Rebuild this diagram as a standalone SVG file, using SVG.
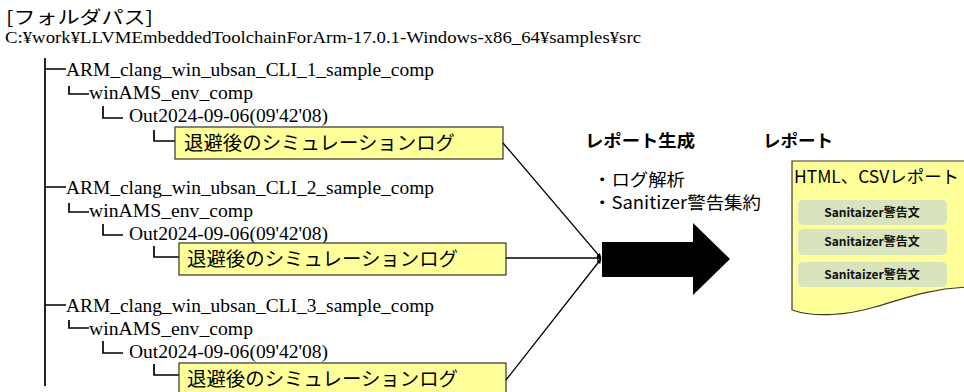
<svg xmlns="http://www.w3.org/2000/svg" width="964" height="392" viewBox="0 0 964 392">
  <style>
    .serif { font-family: "Liberation Serif", "Noto Sans CJK JP", serif; fill: #000; }
    .jp { font-family: "Noto Sans CJK JP", "Liberation Serif", sans-serif; fill: #000; }
    .sans { font-family: "Noto Sans CJK JP", "Liberation Sans", sans-serif; fill: #000; }
    .tree { stroke: #000; stroke-width: 1.7; fill: none; }
    .logbox { fill: #FFFF99; stroke: #333; stroke-width: 1.2; }
    .conn { stroke: #000; stroke-width: 1.3; fill: none; marker-end: url(#head); }
    .item { fill: #D7E4BD; }
    .itemtxt { font-family: "Noto Sans CJK JP", "Liberation Sans", sans-serif; font-size: 12px; font-weight: bold; fill: #111; text-anchor: middle; }
  </style>
  <defs>
    <marker id="head" viewBox="0 0 10 10" refX="9" refY="5" markerWidth="5" markerHeight="5" orient="auto" markerUnits="userSpaceOnUse">
      <path d="M0,0 L10,5 L0,10 z" fill="#000"/>
    </marker>
  </defs>

  <rect width="964" height="392" fill="#fff"/>

  <!-- heading and folder path -->
  <g id="heading">
    <text class="jp" x="6" y="24" font-size="18" textLength="147" lengthAdjust="spacingAndGlyphs">[フォルダパス]</text>
    <text class="serif" x="5" y="43" font-size="16.5" textLength="636" lengthAdjust="spacingAndGlyphs">C:¥work¥LLVMEmbeddedToolchainForArm-17.0.1-Windows-x86_64¥samples¥src</text>
  </g>

  <!-- folder tree trunk -->
  <g id="trunk">
    <line class="tree" x1="45" y1="58" x2="45" y2="386"/>
  </g>

  <!-- sample 1 -->
  <g id="sample1">
    <path class="tree" d="M45,69 H66 M69,86 V94 H89 M103,106 V118 H123 M154,130 V141 H175"/>
    <text class="serif" x="66" y="76" font-size="18.5" textLength="368" lengthAdjust="spacingAndGlyphs">ARM_clang_win_ubsan_CLI_1_sample_comp</text>
    <text class="serif" x="89" y="99" font-size="18.5" textLength="164" lengthAdjust="spacingAndGlyphs">winAMS_env_comp</text>
    <text class="serif" x="129" y="122" font-size="18.5" textLength="199" lengthAdjust="spacingAndGlyphs">Out2024-09-06(09'42'08)</text>
  </g>
  <g id="log1">
    <rect class="logbox" x="175" y="127" width="328" height="32"/>
    <text class="jp" x="184" y="150" font-size="19" textLength="271" lengthAdjust="spacingAndGlyphs">退避後のシミュレーションログ</text>
  </g>

  <!-- sample 2 -->
  <g id="sample2">
    <path class="tree" d="M45,187 H66 M69,203 V212 H89 M103,224 V235 H123 M154,246 V257 H179"/>
    <text class="serif" x="66" y="194" font-size="18.5" textLength="368" lengthAdjust="spacingAndGlyphs">ARM_clang_win_ubsan_CLI_2_sample_comp</text>
    <text class="serif" x="89" y="217" font-size="18.5" textLength="164" lengthAdjust="spacingAndGlyphs">winAMS_env_comp</text>
    <text class="serif" x="129" y="240" font-size="18.5" textLength="199" lengthAdjust="spacingAndGlyphs">Out2024-09-06(09'42'08)</text>
  </g>
  <g id="log2">
    <rect class="logbox" x="179" y="243" width="327" height="32"/>
    <text class="jp" x="187" y="266" font-size="19" textLength="271" lengthAdjust="spacingAndGlyphs">退避後のシミュレーションログ</text>
  </g>

  <!-- sample 3 -->
  <g id="sample3">
    <path class="tree" d="M45,305 H66 M69,320 V328 H89 M103,341 V353 H123 M154,364 V375 H179"/>
    <text class="serif" x="66" y="312" font-size="18.5" textLength="368" lengthAdjust="spacingAndGlyphs">ARM_clang_win_ubsan_CLI_3_sample_comp</text>
    <text class="serif" x="89" y="335" font-size="18.5" textLength="164" lengthAdjust="spacingAndGlyphs">winAMS_env_comp</text>
    <text class="serif" x="129" y="358" font-size="18.5" textLength="199" lengthAdjust="spacingAndGlyphs">Out2024-09-06(09'42'08)</text>
  </g>
  <g id="log3">
    <rect class="logbox" x="179" y="363" width="327" height="33"/>
    <text class="jp" x="187" y="386" font-size="19" textLength="271" lengthAdjust="spacingAndGlyphs">退避後のシミュレーションログ</text>
  </g>

  <!-- connectors from each log into the report generator -->
  <g id="connectors">
    <line class="conn" x1="503" y1="143" x2="601" y2="258"/>
    <line class="conn" x1="506" y1="258" x2="601" y2="258"/>
    <line class="conn" x1="506" y1="380" x2="601" y2="259"/>
  </g>

  <!-- report generation step -->
  <g id="generator">
    <text class="jp" x="585" y="147" font-size="17.5" font-weight="bold" textLength="110" lengthAdjust="spacingAndGlyphs">レポート生成</text>
    <text class="jp" x="593" y="186" font-size="17" textLength="92" lengthAdjust="spacingAndGlyphs">・ログ解析</text>
    <text class="jp" x="593" y="209" font-size="17" textLength="168" lengthAdjust="spacingAndGlyphs">・Sanitizer警告集約</text>
    <polygon points="602,242 693,242 693,223 730,259 693,295 693,277 602,277" fill="#000"/>
  </g>

  <!-- generated report document -->
  <g id="report">
    <text class="jp" x="763" y="147" font-size="17.5" font-weight="bold" textLength="70" lengthAdjust="spacingAndGlyphs">レポート</text>
    <path d="M792,161 H970 V287 C932,288 905,298 875,307 C848,315 815,318 792,310 Z" fill="#FFFF99" stroke="#3a3a2a" stroke-width="1.2"/>
    <text class="sans" x="794" y="183" font-size="17.5" textLength="165" lengthAdjust="spacingAndGlyphs">HTML、CSVレポート</text>
    <rect class="item" x="798" y="200" width="149" height="25" rx="5"/>
    <text class="itemtxt" x="872" y="217">Sanitaizer警告文</text>
    <rect class="item" x="798" y="229" width="149" height="26" rx="5"/>
    <text class="itemtxt" x="872" y="246">Sanitaizer警告文</text>
    <rect class="item" x="798" y="262" width="149" height="25" rx="5"/>
    <text class="itemtxt" x="872" y="279">Sanitaizer警告文</text>
  </g>
</svg>
